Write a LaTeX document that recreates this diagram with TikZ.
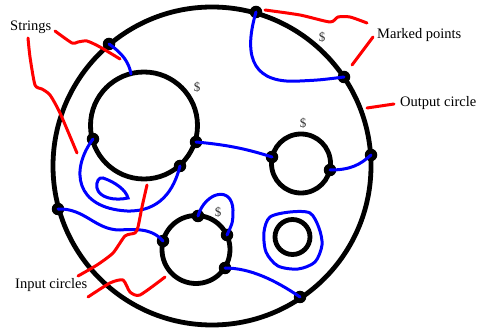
\documentclass[tikz,border=0pt]{standalone}
\usepackage{fontspec}
\setmainfont{Liberation Serif}
\usetikzlibrary{calc}
\begin{document}
\begin{tikzpicture}[
  x=1pt,y=-1pt,
  every node/.style={font=\fontsize{14.5}{17}\selectfont,inner sep=0pt},
  bdry/.style={line width=4.8pt,draw=black},
  dot/.style={circle,fill=black,inner sep=0pt,minimum size=12.5pt},
  strand/.style={line width=3pt,draw=blue,line cap=round},
  leader/.style={line width=3pt,draw=red,line cap=round,line join=round},
  lbl/.style={anchor=west},
  cash/.style={font=\fontsize{13}{15}\selectfont,text=black!80}
]
\useasboundingbox (0,0) rectangle (477,331);
% circles
\coordinate (outc) at (212,166);
\coordinate (bigc) at (144,125.5);
\coordinate (rgtc) at (301,163.5);
\coordinate (lowc) at (196,249.5);
\coordinate (ringc) at (292.5,237);
\draw[bdry] (outc) circle[radius=159pt];
\draw[bdry] (bigc) circle[radius=53.5pt];
\draw[bdry] (rgtc) circle[radius=29.5pt];
\draw[bdry] (lowc) circle[radius=34pt];
\draw[bdry] (ringc) circle[radius=17.5pt];
% marked points
\node[dot] (o1) at (109,44) {};
\node[dot] (o2) at (256,12) {};
\node[dot] (o3) at (344,77) {};
\node[dot] (o4) at (371,155) {};
\node[dot] (o5) at (58,209) {};
\node[dot] (o6) at (300,297) {};
\node[dot] (m1) at (93,139) {};
\node[dot] (m2) at (196,142) {};
\node[dot] (m3) at (180,166) {};
\node[dot] (s1) at (272,157) {};
\node[dot] (s2) at (330,170) {};
\node[dot] (c1) at (163,241) {};
\node[dot] (c2) at (198,216) {};
\node[dot] (c3) at (227,235) {};
\node[dot] (c4) at (225,268) {};
\coordinate (b0) at (131,74);
% strings
\draw[strand] (o1.center) .. controls (122,53) and (129,62) .. (b0);
\draw[strand] (o2.center) .. controls (242,60) and (255,84) .. (300,81)
  .. controls (320,80) .. (o3.center);
\draw[strand] (m2.center) .. controls (230,145) and (250,150) .. (s1.center);
\draw[strand] (s2.center) .. controls (350,170) and (360,165) .. (o4.center);
\draw[strand] (m1.center) .. controls (70,170) and (75,208) .. (127,211)
  .. controls (160,212) and (174,190) .. (m3.center);
\draw[strand] (128,198) .. controls (115,201) and (99,198) .. (97,188)
  .. controls (96,181) and (99,177) .. (103,178)
  .. controls (115,182) and (126,190) .. cycle;
\draw[strand] (o5.center) .. controls (85,208) and (95,230) .. (120,230)
  .. controls (145,228) and (155,232) .. (c1.center);
\draw[strand] (c2.center) .. controls (205,192) and (232,185) .. (233,210)
  .. controls (233,222) .. (c3.center);
\draw[strand] (c4.center) .. controls (250,268) and (275,280) .. (o6.center);
\draw[strand] plot[smooth cycle] coordinates {(270,217) (290,212) (310,213)
  (319,228) (322,245) (315,262) (298,269) (278,266) (266,252) (264,232)};
% dollar signs
\node[cash] (d1) at (197,87) {\$};
\node[cash] (d2) at (322,37) {\$};
\node[cash] (d3) at (303,123) {\$};
\node[cash] (d4) at (218,212) {\$};
% labels
\node[lbl] (strlbl) at (10,27) {Strings};
\node[lbl] (mrklbl) at (377,35) {Marked points};
\node[lbl] (outlbl) at (400,103) {Output circle};
\node[lbl] (inlbl) at (15,285) {Input circles};
% leaders
\draw[leader] plot[smooth,tension=0.4] coordinates {(55,31) (72,43) (78,42)
  (87,41) (100,47) (120,59)};
\draw[leader] plot[smooth,tension=0.4] coordinates {(28,38) (30,57) (35,85)
  (42,89) (50,95) (60,113) (77,153)};
\draw[leader] plot[smooth,tension=0.4] coordinates {(265,10) (300,15) (330,22)
  (338,17) (350,17) (367,23)};
\draw[leader] (373,37) -- (352,65);
\draw[leader] (367,108) -- (394,104);
\draw[leader] plot[smooth,tension=0.4] coordinates {(78,276) (97,265) (113,253)
  (125,236) (135,233) (138,227) (142,207) (147,185)};
\draw[leader] plot[smooth,tension=0.4] coordinates {(88,297) (110,283) (123,280)
  (130,292) (140,295) (165,277)};
\end{tikzpicture}
\end{document}
